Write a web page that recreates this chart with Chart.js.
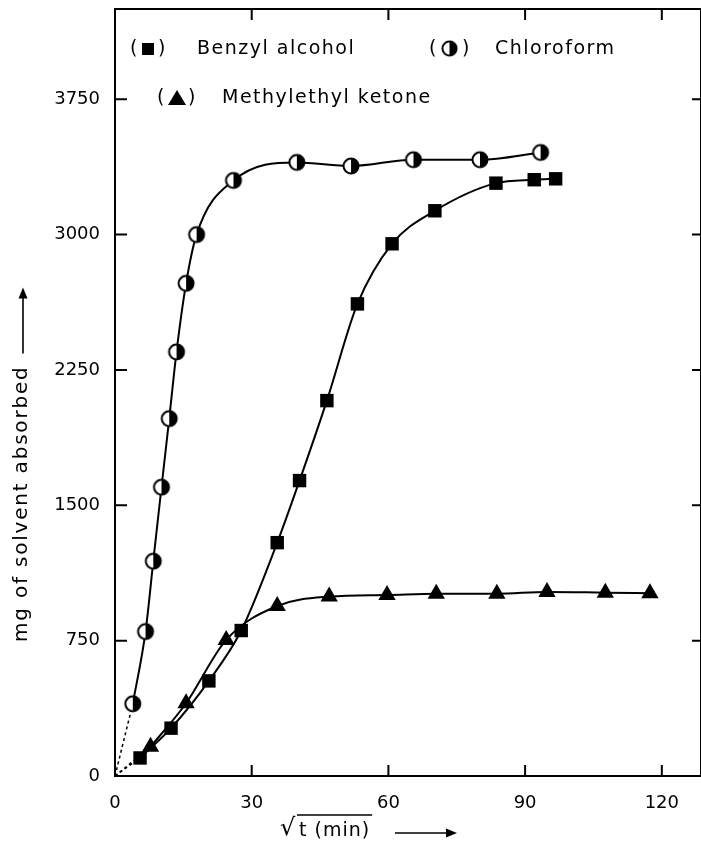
<!DOCTYPE html>
<html>
<head>
<meta charset="utf-8">
<script src="https://cdn.jsdelivr.net/npm/chart.js@4.4.1/dist/chart.umd.min.js"></script>
<style>
  html, body { margin: 0; padding: 0; background: #fff; overflow: hidden; }
  #wrap { width: 701px; height: 860px; }
</style>
</head>
<body>
<div id="wrap"><canvas id="absChart"></canvas></div>
<script>
// sqrt(t) (min) vs mg absorbed
const chloroX = [3.9, 6.7, 8.4, 10.2, 11.9, 13.5, 15.6, 17.9, 26.0, 39.9, 51.8, 65.5, 80.1, 93.4];
const chloroY = [400, 800, 1190, 1600, 1980, 2350, 2730, 3000, 3300, 3400, 3380, 3415, 3415, 3455];
const benzylX = [5.5, 12.3, 20.6, 27.7, 35.6, 40.5, 46.5, 53.2, 60.8, 70.2, 83.6, 92.0, 96.7];
const benzylY = [100, 265, 527, 806, 1293, 1637, 2080, 2616, 2949, 3132, 3285, 3304, 3309];
const mekX = [7.8, 15.6, 24.4, 35.6, 47.0, 59.7, 70.5, 83.8, 94.8, 107.6, 117.4];
const mekY = [162, 403, 754, 942, 994, 1003, 1010, 1010, 1020, 1016, 1013];

const xTicks = [0, 30, 60, 90, 120];
const yTicks = [0, 750, 1500, 2250, 3000, 3750];
const seriesNames = ['Benzyl alcohol', 'Chloroform', 'Methylethyl ketone'];
const xTitle = 't (min)';
const yTitle = 'mg of solvent absorbed';

const FONT = '"DejaVu Sans", sans-serif';

function pts(xs, ys) {
  return xs.map((x, i) => ({ x, y: ys[i] }));
}

// circle, right half black
function halfCircle(r) {
  const c = document.createElement('canvas');
  const s = 2 * r + 4;
  c.width = s; c.height = s;
  const g = c.getContext('2d');
  const m = s / 2;
  g.fillStyle = '#fff';
  g.beginPath(); g.arc(m, m, r, 0, Math.PI * 2); g.fill();
  g.fillStyle = '#000';
  g.beginPath(); g.arc(m, m, r, -Math.PI / 2, Math.PI / 2); g.closePath(); g.fill();
  g.lineWidth = 2; g.strokeStyle = '#000';
  g.beginPath(); g.arc(m, m, r - 0.5, 0, Math.PI * 2); g.stroke();
  return c;
}
const circleImg = halfCircle(8);

function arrow(ctx, x0, y0, x1, y1) {
  const a = Math.atan2(y1 - y0, x1 - x0);
  ctx.beginPath();
  ctx.moveTo(x0, y0);
  ctx.lineTo(x1 - 8 * Math.cos(a), y1 - 8 * Math.sin(a));
  ctx.stroke();
  ctx.beginPath();
  ctx.moveTo(x1, y1);
  ctx.lineTo(x1 - 11 * Math.cos(a) + 4.5 * Math.sin(a), y1 - 11 * Math.sin(a) - 4.5 * Math.cos(a));
  ctx.lineTo(x1 - 11 * Math.cos(a) - 4.5 * Math.sin(a), y1 - 11 * Math.sin(a) + 4.5 * Math.cos(a));
  ctx.closePath();
  ctx.fill();
}

// no extra room for edge labels, the frame runs to the canvas edge
function noPad(s) {
  s.paddingTop = 0; s.paddingBottom = 0; s.paddingLeft = 0; s.paddingRight = 0;
}

const framePlugin = {
  id: 'frame',
  afterDatasetsDraw(chart) {
    const { ctx, chartArea: a, scales } = chart;
    ctx.save();
    ctx.strokeStyle = '#000';
    ctx.lineWidth = 2;
    ctx.strokeRect(a.left, a.top, a.right - a.left, a.bottom - a.top);
    // inward ticks on all four sides
    ctx.beginPath();
    xTicks.forEach(v => {
      const px = scales.x.getPixelForValue(v);
      ctx.moveTo(px, a.bottom); ctx.lineTo(px, a.bottom - 11);
      ctx.moveTo(px, a.top); ctx.lineTo(px, a.top + 11);
    });
    yTicks.forEach(v => {
      const py = scales.y.getPixelForValue(v);
      ctx.moveTo(a.left, py); ctx.lineTo(a.left + 12, py);
      ctx.moveTo(a.right, py); ctx.lineTo(a.right - 9, py);
    });
    ctx.stroke();
    ctx.restore();
  },
  afterDraw(chart) {
    const { ctx, chartArea: a } = chart;
    ctx.save();
    ctx.fillStyle = '#000';
    ctx.strokeStyle = '#000';
    ctx.textBaseline = 'middle';
    ctx.font = '19px ' + FONT;
    ctx.letterSpacing = '1.5px';

    // legend, two rows inside the frame
    const r1 = a.top + 40, r2 = a.top + 89;
    const L = a.left;
    ctx.fillText('(', L + 15, r1); ctx.fillText(')', L + 43, r1);
    ctx.fillRect(L + 27, r1 - 6, 12, 12);
    ctx.fillText(seriesNames[0], L + 82, r1);

    ctx.fillText('(', L + 314, r1); ctx.fillText(')', L + 347, r1);
    ctx.drawImage(circleImg, L + 325, r1 - 10, 19, 19);
    ctx.fillText(seriesNames[1], L + 380, r1);

    ctx.fillText('(', L + 42, r2); ctx.fillText(')', L + 73, r2);
    ctx.beginPath();
    ctx.moveTo(L + 62, r2 - 8); ctx.lineTo(L + 71, r2 + 7); ctx.lineTo(L + 53, r2 + 7);
    ctx.closePath(); ctx.fill();
    ctx.fillText(seriesNames[2], L + 107, r2);

    // x title: sqrt t (min) -->
    ctx.lineWidth = 1.6;
    ctx.letterSpacing = '1px';
    const ty = a.bottom + 54;
    ctx.font = '24px ' + FONT;
    ctx.fillText('\u221A', L + 165, ty - 1);
    ctx.font = '19px ' + FONT;
    const tw = ctx.measureText(xTitle).width;
    ctx.fillText(xTitle, L + 184, ty + 1);
    ctx.beginPath();
    ctx.moveTo(L + 182, ty - 15); ctx.lineTo(L + 186 + tw, ty - 15);
    ctx.stroke();
    arrow(ctx, L + 280, ty + 3, L + 342, ty + 3);

    // y title, rotated
    ctx.translate(22, a.bottom - 134);
    ctx.rotate(-Math.PI / 2);
    ctx.font = '20px ' + FONT;
    ctx.letterSpacing = '1.8px';
    const yw = ctx.measureText(yTitle).width;
    ctx.fillText(yTitle, 0, 0);
    arrow(ctx, yw + 12, 1, yw + 78, 1);
    ctx.restore();
  }
};

const ctx = document.getElementById('absChart').getContext('2d');
new Chart(ctx, {
  type: 'line',
  data: {
    datasets: [
      {
        label: seriesNames[0],
        data: pts(benzylX, benzylY),
        borderColor: '#000', borderWidth: 2,
        pointStyle: 'rect', pointRadius: 9.5, rotation: 0,
        pointBackgroundColor: '#000', pointBorderColor: '#000', pointBorderWidth: 0,
        cubicInterpolationMode: 'monotone'
      },
      {
        label: seriesNames[1],
        data: pts(chloroX, chloroY),
        borderColor: '#000', borderWidth: 2,
        pointStyle: circleImg, pointRadius: 8,
        cubicInterpolationMode: 'monotone'
      },
      {
        label: seriesNames[2],
        data: pts(mekX, mekY),
        borderColor: '#000', borderWidth: 2,
        pointStyle: 'triangle', pointRadius: 10,
        pointBackgroundColor: '#000', pointBorderColor: '#000', pointBorderWidth: 0,
        cubicInterpolationMode: 'monotone'
      },
      // dotted starts from the origin
      { data: [{ x: 0, y: 0 }, { x: chloroX[0], y: chloroY[0] }], borderColor: '#000', borderWidth: 1.5, borderDash: [3, 3], pointRadius: 0 },
      { data: [{ x: 0, y: 0 }, { x: benzylX[0], y: benzylY[0] }], borderColor: '#000', borderWidth: 1.5, borderDash: [3, 3], pointRadius: 0 },
      { data: [{ x: 0, y: 0 }, { x: mekX[0], y: mekY[0] }], borderColor: '#000', borderWidth: 1.5, borderDash: [3, 3], pointRadius: 0 }
    ]
  },
  options: {
    responsive: true,
    maintainAspectRatio: false,
    animation: false,
    events: [],
    layout: { autoPadding: false, padding: { top: 9, right: 0, left: 0, bottom: 0 } },
    plugins: { legend: { display: false }, tooltip: { enabled: false } },
    scales: {
      x: {
        type: 'linear', min: 0, max: 128.6,
        grid: { display: false },
        border: { display: false },
        afterBuildTicks: s => { s.ticks = xTicks.map(v => ({ value: v })); },
        afterFit: s => { s.height = 84; noPad(s); },
        ticks: { color: '#000', padding: 9, maxRotation: 0, font: { family: FONT, size: 18 }, callback: v => String(v) }
      },
      y: {
        type: 'linear', min: 0, max: 4250,
        grid: { display: false },
        border: { display: false },
        afterBuildTicks: s => { s.ticks = yTicks.map(v => ({ value: v })); },
        afterFit: s => { s.width = 115; noPad(s); },
        ticks: { color: '#000', padding: 7, font: { family: FONT, size: 18 }, callback: v => String(v) }
      }
    }
  },
  plugins: [framePlugin]
});
</script>
</body>
</html>
